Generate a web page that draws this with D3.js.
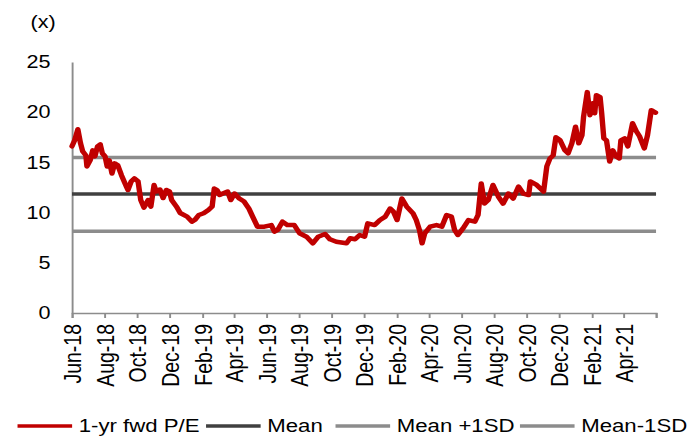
<!DOCTYPE html>
<html>
<head>
<meta charset="utf-8">
<script src="https://cdn.jsdelivr.net/npm/d3@7"></script>
<style>
  html, body { margin: 0; padding: 0; background: #fff; }
  text { font-family: "Liberation Sans", Arial, sans-serif; }
</style>
</head>
<body>
<svg id="chart"></svg>
<script>
// 1-yr forward P/E
const dates = [
  "2018-06-01","2018-06-06","2018-06-12","2018-06-17","2018-06-21","2018-06-27","2018-06-29",
  "2018-07-05","2018-07-10","2018-07-14","2018-07-19","2018-07-24","2018-07-28",
  "2018-08-02","2018-08-06","2018-08-10","2018-08-15","2018-08-20","2018-08-26",
  "2018-09-02","2018-09-11","2018-09-14","2018-09-20","2018-09-26",
  "2018-10-03","2018-10-08","2018-10-14","2018-10-22","2018-10-27",
  "2018-11-02","2018-11-06","2018-11-13","2018-11-19","2018-11-25",
  "2018-12-01","2018-12-05","2018-12-14","2018-12-21",
  "2019-01-03","2019-01-12","2019-01-18","2019-01-25",
  "2019-02-03","2019-02-12","2019-02-19","2019-02-23","2019-02-28",
  "2019-03-05","2019-03-11","2019-03-20","2019-03-26",
  "2019-04-02","2019-04-11","2019-04-20","2019-04-29",
  "2019-05-06","2019-05-15","2019-05-28",
  "2019-06-10","2019-06-16","2019-06-22",
  "2019-07-01","2019-07-10","2019-07-23",
  "2019-08-02","2019-08-15","2019-08-27",
  "2019-09-06","2019-09-19","2019-09-28",
  "2019-10-10","2019-10-29",
  "2019-11-05","2019-11-14","2019-11-23",
  "2019-12-02","2019-12-08","2019-12-21","2019-12-31",
  "2020-01-10","2020-01-19","2020-01-25",
  "2020-02-01","2020-02-10","2020-02-19",
  "2020-03-02","2020-03-08","2020-03-14","2020-03-19","2020-03-24",
  "2020-04-03","2020-04-15","2020-04-25",
  "2020-05-04","2020-05-13","2020-05-19","2020-05-25",
  "2020-06-04","2020-06-14","2020-06-26",
  "2020-07-02","2020-07-08","2020-07-14","2020-07-21","2020-07-30",
  "2020-08-09","2020-08-18","2020-08-28",
  "2020-09-06","2020-09-16","2020-09-25",
  "2020-10-05","2020-10-08","2020-10-20",
  "2020-11-02","2020-11-08","2020-11-14","2020-11-20","2020-11-25",
  "2020-12-03","2020-12-12","2020-12-18","2020-12-25",
  "2021-01-01","2021-01-07","2021-01-13","2021-01-16","2021-01-23","2021-01-28",
  "2021-02-02","2021-02-06","2021-02-09","2021-02-16","2021-02-19","2021-02-23","2021-02-28",
  "2021-03-06","2021-03-12","2021-03-18","2021-03-24","2021-03-27",
  "2021-04-03","2021-04-09","2021-04-18","2021-04-25",
  "2021-05-01","2021-05-10","2021-05-16","2021-05-23","2021-05-31"
]
const pe = [
  16.6,17.2,18.3,16.9,16.1,15.7,14.6,
  15.2,16.2,15.6,16.6,16.8,15.9,
  15.6,14.6,15.2,13.9,14.9,14.7,
  13.7,12.6,12.25,13.1,13.4,
  13.1,11.25,10.5,11.25,10.6,
  12.75,12.1,12.3,11.45,12.25,
  12.1,11.25,10.6,9.96,
  9.6,9.1,9.3,9.76,
  9.93,10.26,10.6,12.4,12.25,
  11.75,11.9,12.1,11.25,
  11.9,11.4,11.1,10.4,
  9.6,8.6,8.6,
  8.76,8.1,8.27,
  9.1,8.76,8.76,
  7.94,7.6,6.94,
  7.6,7.87,7.34,
  7.1,6.94,
  7.44,7.34,7.77,
  7.6,8.93,8.76,9.26,
  9.6,10.4,10.1,
  9.26,11.4,10.6,
  9.93,9.26,8.27,6.94,7.94,
  8.6,8.76,8.6,
  9.76,9.6,8.27,7.77,
  8.44,9.26,9.1,
  9.76,12.9,10.9,11.25,12.75,
  11.6,10.9,11.9,
  11.4,12.6,11.9,
  11.75,13.1,12.75,
  12.1,14.6,15.4,15.7,17.5,
  17.2,16.2,15.9,16.9,
  18.55,16.9,17.7,19.55,22.0,19.7,
  20.9,19.9,21.7,21.5,19.9,17.4,17.2,
  15.1,16.2,15.6,15.4,17.2,
  17.4,16.6,18.9,18.1,
  17.6,16.4,17.7,20.2,19.95
]
const meanValue = 11.85
const plusSdValue = 15.5
const minusSdValue = 8.15
const yTicks = [0, 5, 10, 15, 20, 25]
const axisStart = "2018-06-01"
const axisEnd = "2021-06-01"

const legendItems = [
  { name: "1-yr fwd P/E", colour: "#c00000", x: 14.6 },
  { name: "Mean", colour: "#404040", x: 171.7 },
  { name: "Mean +1SD", colour: "#8c8c8c", x: 279.6 },
  { name: "Mean-1SD", colour: "#8c8c8c", x: 433.3 }
]

// the reference is stretched sideways, so draw in a narrower box and stretch it
const W = 687, H = 436, stretch = 1.2
const vw = W / stretch

const svg = d3.select("#chart")
  .attr("width", W).attr("height", H)
  .attr("viewBox", `0 0 ${vw} ${H}`)
  .attr("preserveAspectRatio", "none")

const parse = d3.timeParse("%Y-%m-%d")
const series = dates.map((d, i) => ({ date: parse(d), value: pe[i] }))

const x = d3.scaleTime().domain([parse(axisStart), parse(axisEnd)]).range([60, 546.7])
const y = d3.scaleLinear().domain([0, 25]).range([313, 62])

// y axis
const yAxis = svg.append("g")
  .attr("transform", `translate(${x.range()[0]},0)`)
  .call(d3.axisLeft(y).tickValues(yTicks).tickSize(0).tickPadding(18))
yAxis.select(".domain").attr("stroke", "#8c8c8c").attr("stroke-width", 1.6)
yAxis.selectAll("text").attr("font-size", 18).attr("fill", "#000")
  .attr("font-family", "Liberation Sans, Arial, sans-serif")

svg.append("text")
  .attr("x", 25.5).attr("y", 28)
  .attr("font-size", 18)
  .text("(x)")

// x axis: a tick every two months from Jun-18, last one (Jun-21) unlabelled
const fmt = d3.timeFormat("%b-%y")
const xTicks = d3.timeMonth.range(parse(axisStart), d3.timeDay.offset(parse(axisEnd), 1), 2)
const xAxis = svg.append("g")
  .attr("transform", `translate(0,${y(0)})`)
  .call(d3.axisBottom(x).tickValues(xTicks).tickSize(5)
    .tickFormat(d => +d === +parse(axisEnd) ? "" : fmt(d)))
xAxis.select(".domain").attr("stroke", "#8c8c8c").attr("stroke-width", 1.6)
xAxis.selectAll(".tick line").attr("stroke", "#8c8c8c").attr("stroke-width", 1.6)
xAxis.selectAll("text")
  .attr("font-size", 19.5).attr("fill", "#000")
  .attr("font-family", "Liberation Sans, Arial, sans-serif")
  .attr("text-anchor", "end")
  .attr("transform", "rotate(-90)")
  .attr("x", -11).attr("y", 0).attr("dy", "0.36em")

// reference lines
const refLines = [
  { value: meanValue, colour: "#404040" },
  { value: plusSdValue, colour: "#8c8c8c" },
  { value: minusSdValue, colour: "#8c8c8c" }
]
svg.append("g").selectAll("line")
  .data(refLines).enter().append("line")
  .attr("x1", x.range()[0]).attr("x2", x.range()[1])
  .attr("y1", d => y(d.value)).attr("y2", d => y(d.value))
  .attr("stroke", d => d.colour)
  .attr("stroke-width", 3.5)

// P/E line
svg.append("path")
  .datum(series)
  .attr("fill", "none")
  .attr("stroke", "#c00000")
  .attr("stroke-width", 4.5)
  .attr("stroke-linejoin", "round")
  .attr("stroke-linecap", "round")
  .attr("d", d3.line().x(d => x(d.date)).y(d => y(d.value)))

// legend (nudged up a touch so the descenders stay on the page)
const legend = svg.append("g").attr("transform", "translate(0,426)")
const items = legend.selectAll("g").data(legendItems).enter().append("g")
  .attr("transform", d => `translate(${d.x},0)`)
items.append("line")
  .attr("x1", 0).attr("x2", 45.5)
  .attr("stroke", d => d.colour)
  .attr("stroke-width", 3.5)
items.append("text")
  .attr("x", 51).attr("dy", "0.33em")
  .attr("font-size", 18.5)
  .text(d => d.name)
</script>
</body>
</html>
